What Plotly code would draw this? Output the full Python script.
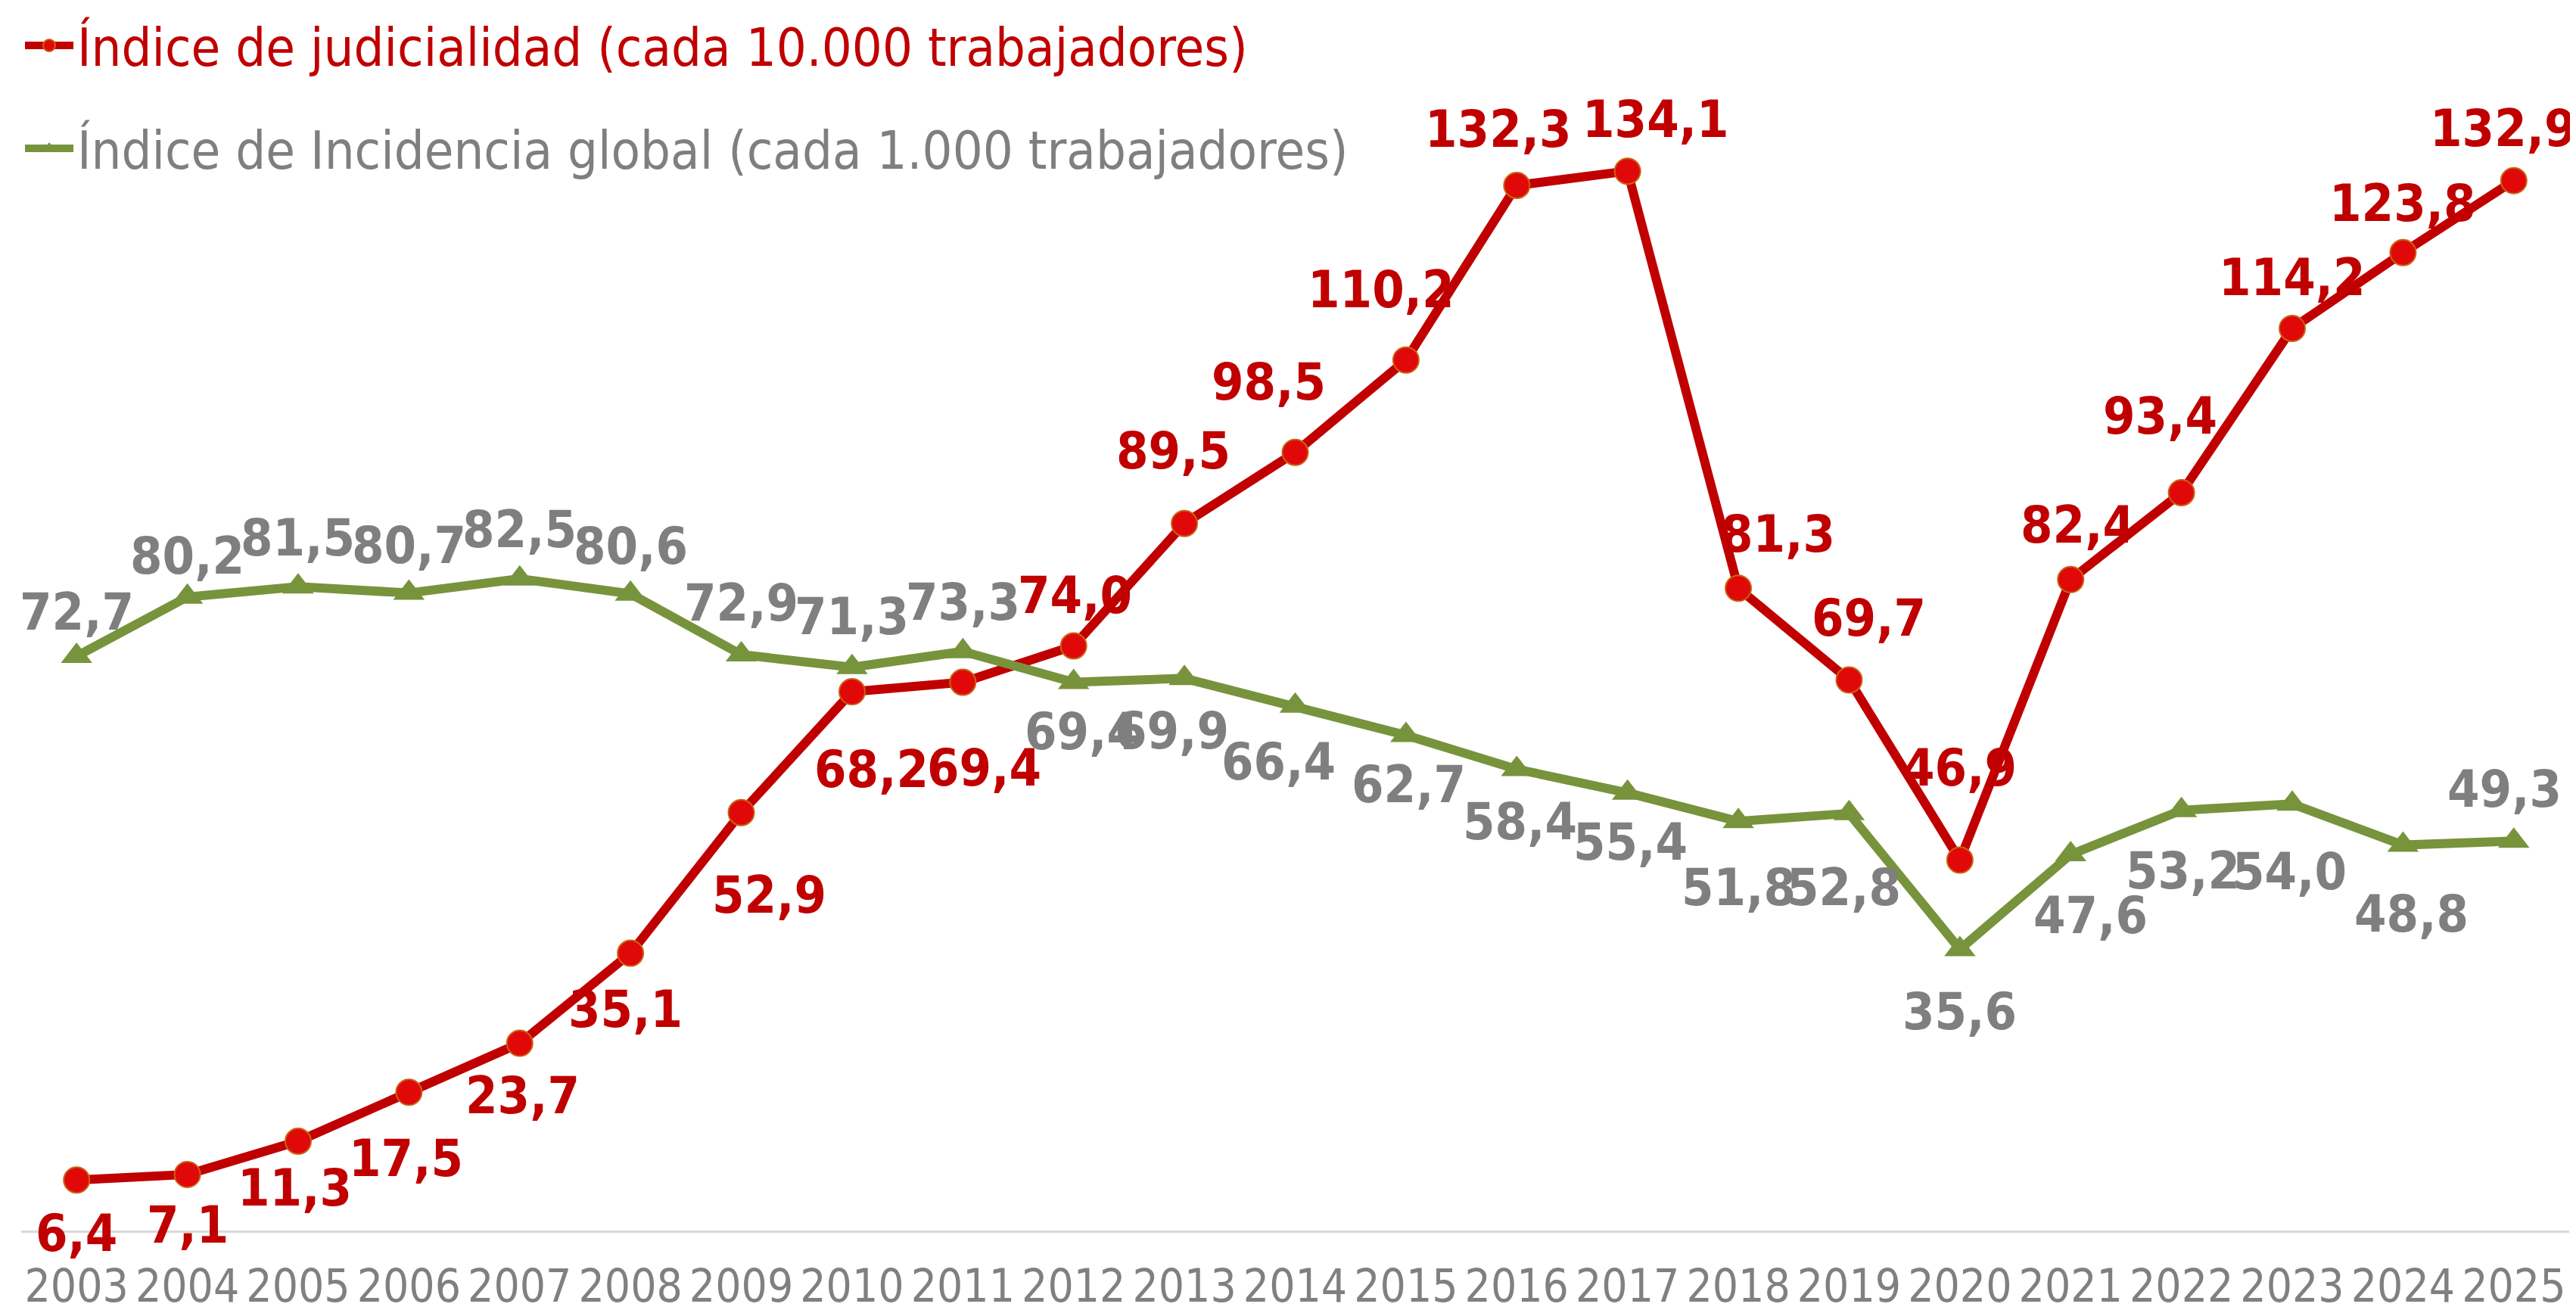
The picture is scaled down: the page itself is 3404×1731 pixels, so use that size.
import plotly.graph_objects as go

years = list(range(2003, 2026))
judicialidad = [6.4, 7.1, 11.3, 17.5, 23.7, 35.1, 52.9, 68.2, 69.4, 74.0, 89.5, 98.5, 110.2,
                132.3, 134.1, 81.3, 69.7, 46.9, 82.4, 93.4, 114.2, 123.8, 132.9]
incidencia = [72.7, 80.2, 81.5, 80.7, 82.5, 80.6, 72.9, 71.3, 73.3, 69.4, 69.9, 66.4, 62.7,
              58.4, 55.4, 51.8, 52.8, 35.6, 47.6, 53.2, 54.0, 48.8, 49.3]

name_j = "Índice de judicialidad (cada 10.000 trabajadores)"
name_i = "Índice de Incidencia global (cada 1.000 trabajadores)"

# label offsets in pixels (dx, dy) – styling only
off_j = [(0, -70), (0, -67), (-4, -61), (-4, -87), (4, -69), (-7, -74), (37, -109), (26, -102),
         (28, -113), (2, 67), (-15, 96), (-35, 93), (-33, 93), (-24, 74), (37, 69), (52, 72),
         (26, 82), (0, 122), (9, 72), (-28, 102), (0, 67), (0, 65), (-14, 69)]
off_i = [(0, 59), (0, 54), (0, 65), (0, 63), (0, 65), (0, 63), (0, 69), (0, 67), (0, 65),
         (11, -65), (-17, -69), (-22, -74), (4, -65), (4, -69), (4, -65), (0, -87), (-7, -98),
         (0, -82), (26, -80), (2, -80), (-4, -89), (11, -91), (-12, 69)]

RED = "#C00000"
GREEN = "#77933C"
GREY = "#7F7F7F"
FONT = "Liberation Sans Narrow, DejaVu Sans Condensed, Roboto, sans-serif"

def fmt(v):
    return f"{v:.1f}".replace(".", ",")

fig = go.Figure()
fig.add_trace(go.Scatter(
    x=years, y=judicialidad, mode="lines+markers",
    name=f'<span style="color:{RED}">{name_j}</span>',
    line=dict(color=RED, width=12),
    marker=dict(symbol="circle", size=34, color="#E00808", line=dict(color="#C86414", width=2)),
    legendgroup="a",
))
fig.add_trace(go.Scatter(
    x=years, y=incidencia, mode="lines+markers",
    name=f'<span style="color:{GREY}">{name_i}</span>',
    line=dict(color=GREEN, width=12),
    marker=dict(symbol="triangle-up", size=36, color=GREEN),
    legendgroup="b",
))

annotations = []
for x, v, (dx, dy) in zip(years, incidencia, off_i):
    annotations.append(dict(x=x, y=v, text=fmt(v), showarrow=False, xshift=dx, yshift=dy,
                            font=dict(family=FONT, size=68, color=GREY, weight="bold")))
for x, v, (dx, dy) in zip(years, judicialidad, off_j):
    annotations.append(dict(x=x, y=v, text=fmt(v), showarrow=False, xshift=dx, yshift=dy,
                            font=dict(family=FONT, size=68, color=RED, weight="bold")))

fig.update_layout(
    width=3404, height=1731,
    paper_bgcolor="white", plot_bgcolor="white",
    margin=dict(l=20, r=17, t=0, b=113),
    font=dict(family=FONT),
    showlegend=True,
    legend=dict(x=0, y=1.0, xanchor="left", yanchor="top", xref="paper", yref="paper",
                font=dict(family=FONT, size=70), tracegroupgap=42, bgcolor="rgba(0,0,0,0)",
                itemwidth=64),
    annotations=annotations,
    xaxis=dict(range=[2002.5, 2025.5], tickmode="array", tickvals=years,
               ticktext=[str(y) for y in years], showgrid=False, zeroline=False,
               showline=True, linecolor="#D9D9D9", linewidth=3, ticks="",
               ticklabelstandoff=19, automargin=False, tickangle=0,
               tickfont=dict(family=FONT, size=60, color="#808080")),
    yaxis=dict(range=[0, 155.0], showgrid=False, zeroline=False, showticklabels=False,
               showline=False, automargin=False),
)

fig.write_html("out.html")
